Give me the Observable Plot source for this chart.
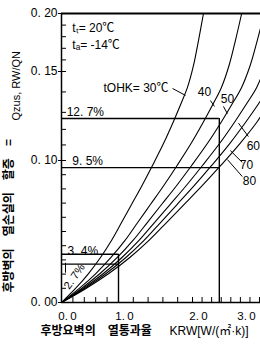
<!DOCTYPE html>
<html><head><meta charset="utf-8">
<script src="https://cdn.jsdelivr.net/npm/d3@7"></script>
<script src="https://cdn.jsdelivr.net/npm/@observablehq/plot@0.6"></script>
<style>
html,body{margin:0;padding:0;background:#fff;}
#chart svg{display:block;}
</style></head><body><div id="chart"></div>
<script>
// ---- data ----
const tOHK = [30, 40, 50, 60, 70, 80];
// heat-loss ratio levels (Q_zus,RW / Q_N)
const vLevels = [0, 0.0099, 0.0204, 0.0317, 0.0437, 0.0563, 0.0690, 0.0817, 0.0965, 0.1109, 0.1251, 0.1348, 0.1422, 0.1552, 0.1767, 0.20];
// K_RW at which each curve reaches those levels
const k30 = [0, 0.246, 0.474, 0.684, 0.877, 1.041, 1.176, 1.311, 1.459, 1.608, 1.743, 1.851, 1.932, 2.021, 2.125, 2.229];
const k40 = [0, 0.312, 0.602, 0.868, 1.088, 1.259, 1.431, 1.603, 1.792, 1.980, 2.233, 2.446, 2.604, 2.763, 2.896, 3.027];
const k50 = [0, 0.351, 0.677, 0.979, 1.196, 1.389, 1.582, 1.776, 1.988, 2.310, 2.608, 2.846, 3.025, 3.204, 3.352, 3.5];
const k60 = [0, 0.381, 0.735, 1.047, 1.277, 1.486, 1.696, 1.905, 2.208, 2.565, 2.888, 3.146, 3.340, 3.533];
const k70 = [0, 0.405, 0.782, 1.100, 1.345, 1.568, 1.791, 2.021, 2.400, 2.777, 3.121, 3.396, 3.580];
const k80 = [0, 0.430, 0.830, 1.153, 1.412, 1.649, 1.885, 2.188, 2.590, 2.990, 3.354, 3.604];
const kSeries = [k30, k40, k50, k60, k70, k80];

// reading boxes (percent, K where it is read)
const boxPct = [12.7, 9.5, 3.4, 2.7];
const boxK = [2.56, 2.56, 1.0, 1.0];
const boxVertK = [2.56, 1.0];
const boxVertTop = [0.127, 0.034];
const pctText = ["12. 7%", "9. 5%", "3. 4%"];
const pctK = [0.09, 0.19, 0.105];
const pctV = [0.130, 0.0996, 0.0359];

// tick labels
const yTicks = [0, 0.10, 0.15, 0.20];
const xTicks = [0, 1, 2, 3];

// the printed axes are not evenly divided: breakpoints of the printed scales
const yBreaks = [0, 0.10, 0.127, 0.15, 0.20];
const yBreakUnits = [0, 142, 184, 231, 289];
const xBreaks = [0, 1, 2, 3.42];
const xBreakUnits = [0, 57, 131, 199];

// annotation texts
const condText = ["tₜ= 20℃", "tₐ= -14℃"];
const condK = [0.19, 0.19];
const condV = [0.187, 0.1724];
const curveText = ["tOHK= 30℃", "40", "50", "60", "70", "80"];
const curveLabK = [1.676, 2.25, 2.729, 3.27, 3.125, 3.19];
const curveLabV = [0.1417, 0.1397, 0.1363, 0.109, 0.0965, 0.0852];
const leadK1 = [1.730, 2.375, 2.646, 3.167, 3.04, 3.04, 0.07];
const leadV1 = [0.1417, 0.1358, 0.1329, 0.1154, 0.0986, 0.0887, 0.028];
const leadK2 = [1.905, 2.458, 2.729, 2.96, 2.79, 2.729, 0.07];
const leadV2 = [0.1383, 0.1329, 0.1294, 0.124, 0.1064, 0.1006, 0.021];

const xTitleKo = "후방요벽의\u3000열통과율";
const xTitleLat = "KRW[W/(㎡·k)]";
const yTitleKo = "후방벽의\u3000열손실의\u3000할증\u3000=";
const yTitleLat = "Qzus, RW/QN";

// ---- build tables ----
const curves = tOHK.flatMap((t, j) => kSeries[j].map((k, i) => ({t, k, v: vLevels[i]})));
const boxH = boxPct.map((p, i) => ({v: p / 100, k: boxK[i]}));
const boxV = boxVertK.map((k, i) => ({k, v: boxVertTop[i]}));
const pcts = pctText.map((s, i) => ({s, k: pctK[i], v: pctV[i]}));
const conds = condText.map((s, i) => ({s, k: condK[i], v: condV[i]}));
const labs = curveText.map((s, i) => ({s, k: curveLabK[i], v: curveLabV[i]}));
const leads = leadK1.map((k, i) => ({x1: k, y1: leadV1[i], x2: leadK2[i], y2: leadV2[i]}));
const yMinor = d3.range(0, 0.2001, 0.01);
const xMinor = d3.range(0, 3.41, 0.2);

const yWarp = d3.scaleLinear().domain(yBreaks).range(yBreakUnits);
const xWarp = d3.scaleLinear().domain(xBreaks).range(xBreakUnits);

const LAT = "'Liberation Sans', Arial, 'Noto Sans CJK KR', sans-serif";
const KO = "'Noto Sans CJK KR', 'Liberation Sans', sans-serif";

const chart = Plot.plot({
  width: 260,
  height: 347,
  marginLeft: 61,
  marginRight: 0,
  marginTop: 13,
  marginBottom: 45,
  style: {background: "#fff", color: "#000", fontFamily: LAT, fontSize: "12px", overflow: "visible"},
  x: {transform: xWarp, domain: [0, xBreakUnits[xBreakUnits.length - 1]]},
  y: {transform: yWarp, domain: [0, yBreakUnits[yBreakUnits.length - 1]]},
  marks: [
    Plot.tickY(yMinor, {y: d => d, insetRight: 194, stroke: "#000"}),
    Plot.tickX(xMinor, {x: d => d, insetTop: 284, stroke: "#000"}),
    Plot.ruleX([0], {strokeWidth: 1.5}),
    Plot.ruleY([0], {strokeWidth: 1.5}),
    Plot.ruleY([0.2], {strokeWidth: 2}),
    Plot.ruleY(boxH, {y: "v", x1: 0, x2: "k", strokeWidth: 1.4}),
    Plot.ruleX(boxV, {x: "k", y1: 0, y2: "v", strokeWidth: 1.4}),
    Plot.line(curves, {x: "k", y: "v", z: "t", curve: "catmull-rom", stroke: "#000", strokeWidth: 1.1, clip: true}),
    Plot.link(leads, {x1: "x1", y1: "y1", x2: "x2", y2: "y2", stroke: "#000", strokeWidth: 1}),
    Plot.text(conds, {x: "k", y: "v", text: "s", textAnchor: "start", fontSize: 12}),
    Plot.text(labs.slice(0, 1), {x: "k", y: "v", text: "s", textAnchor: "end", fontSize: 12}),
    Plot.text(labs.slice(1), {x: "k", y: "v", text: "s", textAnchor: "middle", fontSize: 12}),
    Plot.text(pcts, {x: "k", y: "v", text: "s", textAnchor: "start", fontSize: 12}),
    Plot.text(["2. 7%"], {x: [0.228], y: [0.0183], rotate: -55, fontSize: 11}),
    Plot.axisY(yTicks, {tickSize: 3, tickPadding: 1, tickFormat: d => d.toFixed(2).replace(".", ". "), label: null, fontSize: 12}),
    Plot.axisX(xTicks, {tickSize: 0, tickPadding: 9, tickFormat: d => d.toFixed(1).replace(".", ".\u2009"), label: null, dx: 6, fontSize: 11.5}),
    Plot.text([xTitleKo], {frameAnchor: "bottom-left", dx: -21, dy: 32, textAnchor: "start", fontFamily: KO, fontWeight: "bold", fontSize: 12}),
    Plot.text([xTitleLat], {frameAnchor: "bottom-left", dx: 108, dy: 32, textAnchor: "start", fontSize: 12}),
    Plot.text([yTitleKo], {frameAnchor: "bottom-left", rotate: -90, dx: -49, dy: -10, textAnchor: "start", fontFamily: KO, fontWeight: "bold", fontSize: 12}),
    Plot.text([yTitleLat], {frameAnchor: "top-left", rotate: -90, dx: -49, dy: 107, textAnchor: "start", fontSize: 11})
  ]
});
document.getElementById("chart").appendChild(chart);
</script></body></html>
